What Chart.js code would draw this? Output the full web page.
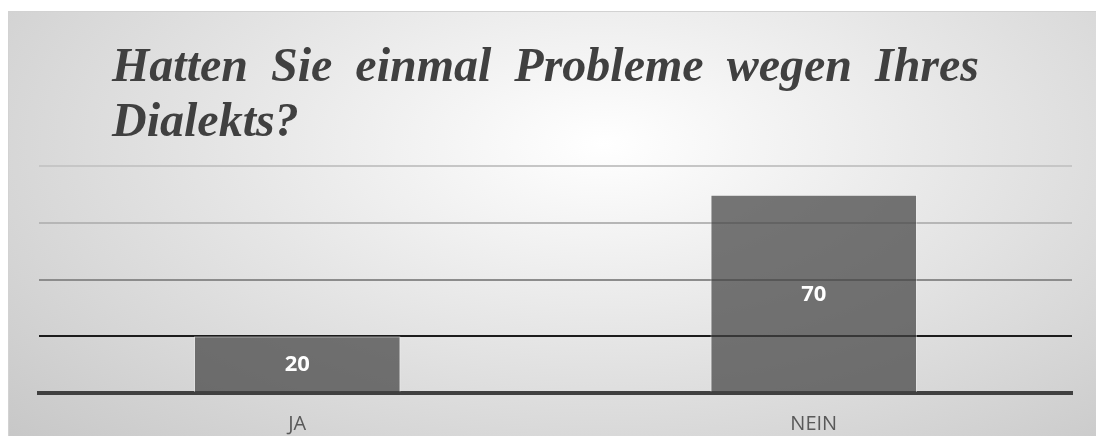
<!DOCTYPE html>
<html>
<head>
<meta charset="utf-8">
<script src="https://cdn.jsdelivr.net/npm/chart.js@4"></script>
<style>
  html, body { margin: 0; padding: 0; background: #ffffff; overflow: hidden; width: 1096px; height: 436px; }
  #box { position: absolute; left: 8px; top: 11px; width: 1100px; height: 440px;
         border: 1px solid #d2d2d2;
         background: radial-gradient(ellipse farthest-corner at 54% 30%, #ffffff 0%, #efefef 28%, #c6c6c6 100%); }
  #c { position: absolute; left: 0; top: 0; }
</style>
</head>
<body>
<div id="box"></div>
<canvas id="c" width="1096" height="436"></canvas>
<script>
const titleLines = ['Hatten Sie einmal Probleme wegen Ihres', 'Dialekts?'];
const categories = ['JA', 'NEIN'];
const values = [20, 70];
const yMin = 0;
const yMax = 80;
const yStep = 20;

const gridColors = { 0: 'rgba(0,0,0,0)', 20: '#1c1c1c', 40: '#8c8c8c', 60: '#b6b6b6', 80: '#c6c6c6' };

const titleTweak = {
  id: 'titleTweak',
  afterLayout(chart) {
    if (chart.titleBlock) { chart.titleBlock.left = 112; }
  },
  beforeDraw(chart) { chart.ctx.wordSpacing = '11px'; },
  beforeDatasetsDraw(chart) { chart.ctx.wordSpacing = '0px'; }
};

const valueLabels = {
  id: 'valueLabels',
  afterDatasetsDraw(chart) {
    const ctx = chart.ctx;
    const meta = chart.getDatasetMeta(0);
    ctx.save();
    ctx.font = 'bold 22px "Open Sans"';
    ctx.fillStyle = '#ffffff';
    ctx.textAlign = 'center';
    ctx.textBaseline = 'middle';
    meta.data.forEach((bar, i) => {
      const p = bar.getProps(['x', 'y', 'base'], true);
      ctx.fillText(String(values[i]), p.x, (p.y + p.base) / 2 + 1);
    });
    ctx.restore();
  }
};

new Chart(document.getElementById('c'), {
  type: 'bar',
  data: {
    labels: categories,
    datasets: [{
      data: values,
      backgroundColor: 'rgba(66,66,66,0.72)',
      borderColor: 'rgba(255,255,255,0.45)',
      borderWidth: 1,
      barPercentage: 0.4,
      categoryPercentage: 1.0
    }]
  },
  options: {
    responsive: false,
    devicePixelRatio: 1,
    animation: false,
    layout: { padding: { left: 39, right: 24, top: 0, bottom: 0 } },
    plugins: {
      legend: { display: false },
      tooltip: { enabled: false },
      title: {
        display: true,
        text: titleLines,
        align: 'start',
        color: '#404040',
        font: { family: 'Liberation Serif', size: 48, style: 'italic', weight: 'bold', lineHeight: 1.15 },
        padding: { top: 41, bottom: 15 }
      }
    },
    scales: {
      x: {
        z: 1,
        grid: { display: false, drawTicks: false },
        border: { display: true, color: '#404040', width: 4 },
        ticks: { color: '#595959', font: { family: 'Open Sans', size: 20 }, padding: 19 },
        afterFit(scale) { scale.height = 43; }
      },
      y: {
        min: yMin,
        max: yMax,
        ticks: { display: false, stepSize: yStep },
        border: { display: false },
        grid: {
          drawTicks: false,
          lineWidth: 2,
          color: (ctx) => gridColors[ctx.tick ? ctx.tick.value : 0] || '#c6c6c6'
        }
      }
    }
  },
  plugins: [titleTweak, valueLabels]
});
</script>
</body>
</html>
